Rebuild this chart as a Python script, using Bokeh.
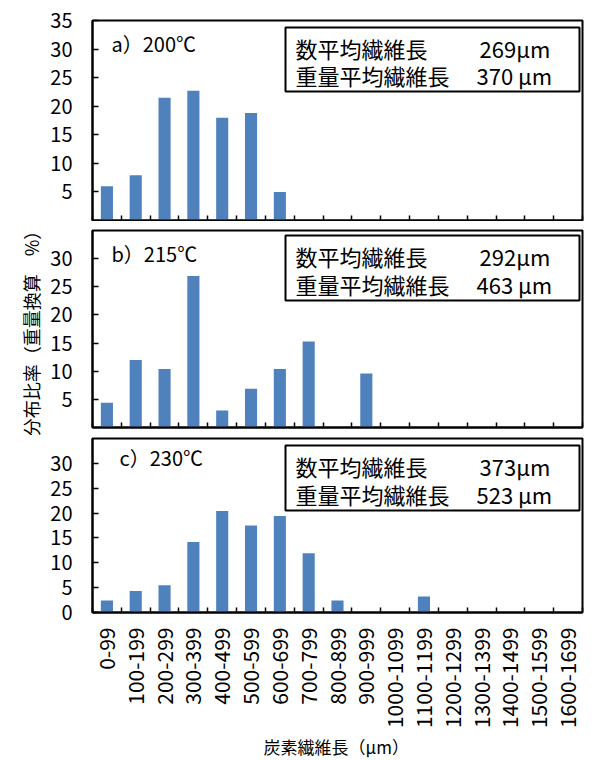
import math
from bokeh.plotting import figure
from bokeh.models import (FixedTicker, BoxAnnotation, Label, Title,
                          CustomJSTickFormatter, ColumnDataSource)
from bokeh.layouts import column
from bokeh.embed import file_html
from bokeh.resources import INLINE

# ---------------- data ----------------
categories = ["0-99", "100-199", "200-299", "300-399", "400-499", "500-599",
              "600-699", "700-799", "800-899", "900-999", "1000-1099",
              "1100-1199", "1200-1299", "1300-1399", "1400-1499",
              "1500-1599", "1600-1699"]
dist_200 = [6.0, 7.9, 21.5, 22.7, 18.0, 18.8, 5.0, 0, 0, 0, 0, 0, 0, 0, 0, 0, 0]
dist_215 = [4.4, 12.0, 10.4, 26.9, 3.0, 6.9, 10.4, 15.3, 0, 9.6, 0, 0, 0, 0, 0, 0, 0]
dist_230 = [2.4, 4.3, 5.5, 14.2, 20.4, 17.5, 19.4, 11.9, 2.4, 0, 0, 3.2, 0, 0, 0, 0, 0]
panel_titles = ["a）200℃", "b）215℃", "c）230℃"]
num_avg_label = "数平均繊維長"
wt_avg_label = "重量平均繊維長"
num_avg_values = ["269μm", "292μm", "373μm"]
wt_avg_values = ["370 μm", "463 μm", "523 μm"]
y_ticks_a = [5, 10, 15, 20, 25, 30, 35]
y_ticks_b = [5, 10, 15, 20, 25, 30]
y_ticks_c = [0, 5, 10, 15, 20, 25, 30]
y_title = "分布比率（重量換算　%）"
x_title = "炭素繊維長（μm）"

# ---------------- style ----------------
FONT = "Noto Sans CJK JP"
BAR = "#4F81BD"
LEFT = 92
FW = 490
N = len(categories)
YMAX = 35
centers = [i + 0.5 for i in range(N)]
bounds = list(range(N + 1))
BOX_W = 294


def make_panel(values, fh, top_b, bot_b, yticks, idx, geo, last=False, ylab=None):
    p = figure(frame_width=FW, frame_height=fh, x_range=(0, N), y_range=(0, YMAX),
               output_backend="svg", toolbar_location=None,
               min_border_left=LEFT, min_border_right=2,
               min_border_top=top_b, min_border_bottom=bot_b)
    p.xgrid.visible = False
    p.ygrid.visible = False
    p.outline_line_color = "black"
    p.outline_line_width = 2
    p.outline_line_alpha = 1.0
    p.background_fill_color = "white"
    p.border_fill_color = "white"

    src = ColumnDataSource(dict(x=centers, top=values, cat=categories))
    p.vbar(x="x", top="top", width=0.42, source=src, fill_color=BAR,
           line_color=None)

    xa = p.xaxis[0]
    xa.axis_line_color = "black"
    xa.axis_line_width = 2
    xa.major_tick_in = 0
    xa.major_tick_out = 0
    xa.minor_tick_in = 5
    xa.minor_tick_out = 0
    xa.minor_tick_line_color = "black"
    xa.minor_tick_line_width = 1.5
    if last:
        xa.ticker = FixedTicker(ticks=centers, minor_ticks=bounds)
        xa.formatter = CustomJSTickFormatter(args=dict(cats=categories),
                                             code="return cats[Math.floor(tick)]")
        xa.major_label_orientation = math.pi / 2
        xa.major_label_standoff = 15
        xa.major_label_text_font = FONT
        xa.major_label_text_font_size = "21px"
        xa.major_label_text_color = "black"
    else:
        xa.ticker = FixedTicker(ticks=[], minor_ticks=bounds)
        xa.major_label_standoff = 0

    ya = p.yaxis[0]
    ya.ticker = FixedTicker(ticks=yticks)
    ya.axis_line_color = "black"
    ya.axis_line_width = 2
    ya.major_tick_in = 6
    ya.major_tick_out = 0
    ya.major_tick_line_color = "black"
    ya.major_tick_line_width = 1.5
    ya.minor_tick_line_color = None
    ya.major_label_standoff = 20
    ya.major_label_text_font = FONT
    ya.major_label_text_font_size = "20px"
    ya.major_label_text_color = "black"
    if ylab:
        ya.axis_label = ylab
        ya.axis_label_text_font = FONT
        ya.axis_label_text_font_size = "18px"
        ya.axis_label_text_font_style = "normal"
        ya.axis_label_text_color = "black"
        ya.axis_label_standoff = 3

    def dy(px):
        return YMAX - px * YMAX / fh

    def dx(px):
        return px * N / FW

    box_top, box_bot, l1, l2, tx, ty = geo
    box_r = FW - 3
    box_l = box_r - BOX_W
    p.add_layout(BoxAnnotation(left=dx(box_l), right=dx(box_r), top=dy(box_top),
                               bottom=dy(box_bot), fill_color="white", fill_alpha=1.0,
                               line_color="black", line_width=2, line_alpha=1.0))
    common = dict(text_font=FONT, text_baseline="middle", text_align="left",
                  text_color="black")
    p.add_layout(Label(x=dx(box_l + 10), y=dy(l1), text=num_avg_label,
                       text_font_size="22px", **common))
    p.add_layout(Label(x=dx(box_l + 10), y=dy(l2), text=wt_avg_label,
                       text_font_size="22px", **common))
    p.add_layout(Label(x=dx(box_l + 194), y=dy(l1), text=num_avg_values[idx],
                       text_font_size="22px", **common))
    p.add_layout(Label(x=dx(box_l + 191), y=dy(l2), text=wt_avg_values[idx],
                       text_font_size="22px", **common))
    p.add_layout(Label(x=dx(tx), y=dy(ty), text=panel_titles[idx],
                       text_font_size="20px", **common))

    if last:
        p.add_layout(Title(text=x_title, align="left", offset=171, standoff=0,
                           text_font=FONT, text_font_size="17px",
                           text_font_style="normal", text_color="black"), "below")
    return p


pa = make_panel(dist_200, 200, 20, 1, y_ticks_a, 0, (7, 71, 27, 54, 19, 23))
pb = make_panel(dist_215, 197, 9, 8, y_ticks_b, 1, (5, 70, 25, 53, 19, 23), ylab=y_title)
pc = make_panel(dist_230, 174, 3, 132, y_ticks_c, 2, (7, 72, 27, 55, 27, 19), last=True)

layout = column(pa, pb, pc, spacing=0)

with open("out.html", "w") as f:
    f.write(file_html(layout, INLINE))
